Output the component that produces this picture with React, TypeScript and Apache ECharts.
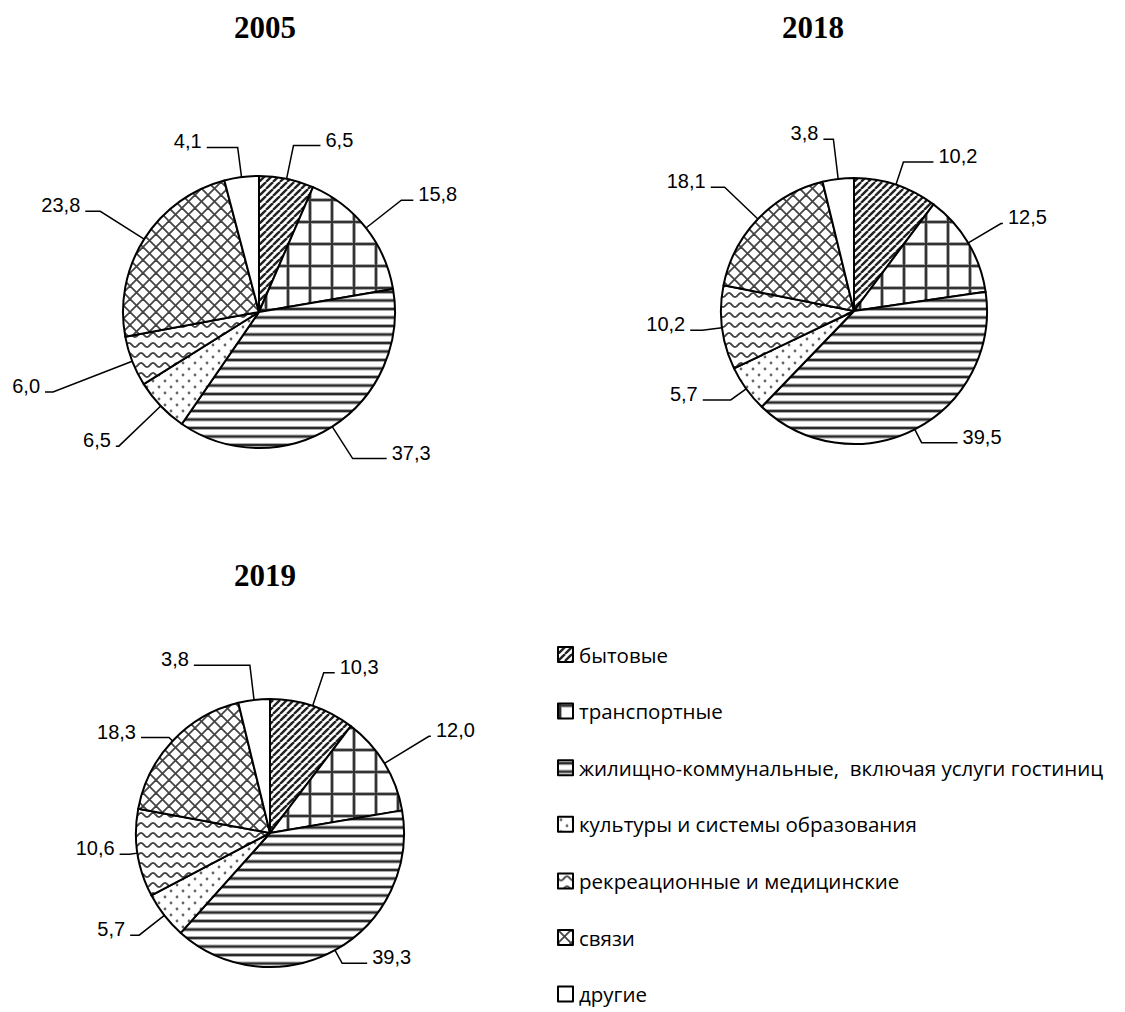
import React, { useEffect, useRef } from "react";
import * as echarts from "echarts";

// ---------- data ----------
const categories = [
  "бытовые",
  "транспортные",
  "жилищно-коммунальные,  включая услуги гостиниц",
  "культуры и системы образования",
  "рекреационные и медицинские",
  "связи",
  "другие",
];
const years = ["2005", "2018", "2019"];
const values2005 = [6.5, 15.8, 37.3, 6.5, 6.0, 23.8, 4.1];
const values2018 = [10.2, 12.5, 39.5, 5.7, 10.2, 18.1, 3.8];
const values2019 = [10.3, 12.0, 39.3, 5.7, 10.6, 18.3, 3.8];

// ---------- label leader-line lengths (style) ----------
const leader2005 = [
  [34, 27],
  [45, 12],
  [38, 34],
  [58, 3],
  [85, 8],
  [52, 15],
  [30, 31],
];
const leader2018 = [
  [24, 30],
  [38, 2],
  [15, 36],
  [19, 28],
  [20, 12],
  [46, 14],
  [40, 10],
];
const leader2019 = [
  [35, 11],
  [52, 2],
  [15, 25],
  [32, 9],
  [8, 10],
  [5, 28],
  [35, 56],
];

type Ctx = CanvasRenderingContext2D;

function makeTile(w: number, h: number, draw: (ctx: Ctx) => void) {
  const c = document.createElement("canvas");
  c.width = w;
  c.height = h;
  const ctx = c.getContext("2d") as Ctx;
  ctx.fillStyle = "#fff";
  ctx.fillRect(0, 0, w, h);
  draw(ctx);
  return {
    image: c.toDataURL(),
    imageWidth: w,
    imageHeight: h,
    repeat: "repeat",
  };
}

function buildPatterns() {
  // 1: diagonal "/" hatch
  const diag = makeTile(7, 7, (ctx) => {
    ctx.strokeStyle = "#222";
    ctx.lineWidth = 2.4;
    for (const x0 of [-7, 0, 7]) {
      ctx.beginPath();
      ctx.moveTo(x0, 7);
      ctx.lineTo(x0 + 7, 0);
      ctx.stroke();
    }
  });
  // 2: square grid
  const grid = makeTile(22, 22, (ctx) => {
    ctx.fillStyle = "#aaa";
    ctx.fillRect(0, 0, 22, 4);
    ctx.fillRect(0, 0, 4, 22);
    ctx.fillStyle = "#333";
    ctx.fillRect(0, 1, 22, 2);
    ctx.fillRect(1, 0, 2, 22);
  });
  // 3: horizontal lines
  const horiz = makeTile(4, 17, (ctx) => {
    ctx.fillStyle = "#aaa";
    ctx.fillRect(0, 1, 4, 4);
    ctx.fillRect(0, 9.5, 4, 4);
    ctx.fillStyle = "#2a2a2a";
    ctx.fillRect(0, 2, 4, 2);
    ctx.fillRect(0, 10.5, 4, 2);
  });
  // 4: dots
  const dots = makeTile(12, 12, (ctx) => {
    ctx.fillStyle = "#666";
    for (const [x, y] of [
      [3, 3],
      [9, 9],
    ]) {
      ctx.beginPath();
      ctx.arc(x, y, 1.4, 0, Math.PI * 2);
      ctx.fill();
    }
  });
  // 5: waves
  const waves = makeTile(12, 10, (ctx) => {
    ctx.strokeStyle = "#444";
    ctx.lineWidth = 1.8;
    ctx.beginPath();
    for (let x = -1; x <= 13; x += 0.5) {
      const y = 5 + 2 * Math.sin((2 * Math.PI * x) / 12);
      if (x === -1) ctx.moveTo(x, y);
      else ctx.lineTo(x, y);
    }
    ctx.stroke();
  });
  // 6: diagonal cross-hatch (diamonds)
  const cross = makeTile(13, 13, (ctx) => {
    ctx.strokeStyle = "#444";
    ctx.lineWidth = 1.8;
    for (const x0 of [-13, 0, 13]) {
      ctx.beginPath();
      ctx.moveTo(x0, 13);
      ctx.lineTo(x0 + 13, 0);
      ctx.stroke();
      ctx.beginPath();
      ctx.moveTo(x0, 0);
      ctx.lineTo(x0 + 13, 13);
      ctx.stroke();
    }
  });
  return [diag, grid, horiz, dots, waves, cross, "#ffffff"];
}

const fmt = (v: number) => v.toFixed(1).replace(".", ",");

export default function App() {
  const ref = useRef<HTMLDivElement>(null);

  useEffect(() => {
    document.body.style.margin = "0";
    if (!ref.current) return;
    const chart = echarts.init(ref.current, null, { renderer: "svg" });
    const patterns = buildPatterns();

    const pies = [
      { values: values2005, center: [259, 312], radius: 136, lens: leader2005 },
      { values: values2018, center: [854, 311], radius: 133, lens: leader2018 },
      { values: values2019, center: [270, 833], radius: 134, lens: leader2019 },
    ];
    const titlePos = [
      { left: 265, top: 12 },
      { left: 813, top: 12 },
      { left: 265, top: 560 },
    ];

    const option: any = {
      animation: false,
      backgroundColor: "#fff",
      title: years.map((y, i) => ({
        text: y,
        left: titlePos[i].left,
        top: titlePos[i].top,
        textAlign: "center",
        padding: 0,
        textStyle: {
          fontFamily: "Liberation Serif",
          fontWeight: "bold",
          fontSize: 31,
          color: "#000",
        },
      })),
      legend: {
        type: "plain",
        data: categories,
        orient: "vertical",
        left: 557,
        top: 644,
        height: 420,
        padding: 0,
        itemWidth: 15,
        itemHeight: 15,
        itemGap: 35.6,
        icon: "rect",
        selectedMode: false,
        textStyle: {
          fontFamily: "Open Sans",
          fontSize: 20.5,
          color: "#000",
          padding: [0, 0, 0, 1],
        },
      },
      series: pies.map((p, si) => ({
        type: "pie",
        name: years[si],
        center: p.center,
        radius: p.radius,
        startAngle: 90,
        clockwise: true,
        avoidLabelOverlap: false,
        silent: true,
        emphasis: { disabled: true },
        itemStyle: { borderColor: "#000", borderWidth: 2 },
        label: {
          show: true,
          position: "outside",
          formatter: (x: any) => "{v|" + fmt(x.value) + "}",
          rich: {
            v: {
              color: "#000",
              fontFamily: "Liberation Sans",
              fontSize: 20,
              padding: [0, 0, 12, 0],
            },
          },
        },
        labelLine: {
          show: true,
          lineStyle: { color: "#000", width: 1.5 },
        },
        data: categories.map((name, i) => ({
          name,
          value: p.values[i],
          itemStyle: { color: patterns[i] },
          labelLine: { length: p.lens[i][0], length2: p.lens[i][1] },
        })),
      })),
    };
    chart.setOption(option);
    return () => chart.dispose();
  }, []);

  return (
    <div
      ref={ref}
      style={{
        position: "absolute",
        left: 0,
        top: 0,
        width: 1125,
        height: 1012,
        background: "#fff",
      }}
    />
  );
}
